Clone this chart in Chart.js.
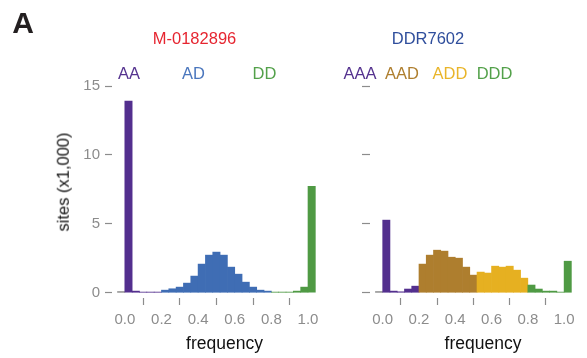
<!DOCTYPE html>
<html>
<head>
<meta charset="utf-8">
<script src="https://cdn.jsdelivr.net/npm/chart.js@4"></script>
<style>
  body { margin: 0; width: 587px; height: 358px; position: relative; background: #fff; overflow: hidden;
         font-family: "Liberation Sans", Arial, Helvetica, sans-serif; }
  canvas { position: absolute; top: 0; }
  .lbl { position: absolute; transform: translate(-50%, -50%); line-height: 1; white-space: nowrap; }
</style>
</head>
<body>
<canvas id="leftChart" width="335" height="358" style="left:0"></canvas>
<canvas id="rightChart" width="252" height="358" style="left:335px"></canvas>

<div class="lbl" style="left:23px;top:23px;font-size:30px;font-weight:bold;color:#231f20">A</div>
<div class="lbl" style="left:194.5px;top:37.5px;font-size:16.5px;color:#e62530">M-0182896</div>
<div class="lbl" style="left:428px;top:37.5px;font-size:16.5px;color:#2f4e9c">DDR7602</div>

<div class="lbl" style="left:129px;top:72.5px;font-size:16.5px;color:#55338f">AA</div>
<div class="lbl" style="left:193.5px;top:72.5px;font-size:16.5px;color:#4a76bd">AD</div>
<div class="lbl" style="left:264.5px;top:72.5px;font-size:16.5px;color:#53a14a">DD</div>
<div class="lbl" style="left:360px;top:72.5px;font-size:16.5px;color:#55338f">AAA</div>
<div class="lbl" style="left:402px;top:72.5px;font-size:16.5px;color:#ae7e2e">AAD</div>
<div class="lbl" style="left:450px;top:72.5px;font-size:16.5px;color:#e9b52a">ADD</div>
<div class="lbl" style="left:494.5px;top:72.5px;font-size:16.5px;color:#53a14a">DDD</div>

<div class="lbl" style="left:62.5px;top:181.5px;font-size:16.5px;color:#111;transform:translate(-50%,-50%) rotate(-90deg)">sites (x1,000)</div>
<div class="lbl" style="left:224.5px;top:343.5px;font-size:17.5px;color:#111">frequency</div>
<div class="lbl" style="left:483px;top:343.5px;font-size:17.5px;color:#111">frequency</div>

<script>
// histogram bins of width 0.04; the first bin (-0.04..0) is the grey stub at the baseline
const binMids = [-0.02, 0.02, 0.06, 0.10, 0.14, 0.18, 0.22, 0.26, 0.30, 0.34, 0.38, 0.42, 0.46, 0.50,
                 0.54, 0.58, 0.62, 0.66, 0.70, 0.74, 0.78, 0.82, 0.86, 0.90, 0.94, 0.98, 1.02];

// sites per bin, in thousands
const leftSites = [0.08, 13.9, 0.12, 0.05, 0.05, 0.05, 0.19, 0.29, 0.41, 0.70, 1.21, 2.08, 2.73, 2.95,
                   2.73, 1.86, 1.35, 0.77, 0.41, 0.19, 0.12, 0.05, 0.05, 0.05, 0.12, 0.41, 7.73];
const leftGenotype = ['', 'AA', 'AA', 'AA', 'AA', 'AA', 'AD', 'AD', 'AD', 'AD', 'AD', 'AD', 'AD', 'AD',
                      'AD', 'AD', 'AD', 'AD', 'AD', 'AD', 'AD', 'DD', 'DD', 'DD', 'DD', 'DD', 'DD'];

const rightSites = [0.08, 5.27, 0.12, 0.07, 0.27, 0.48, 2.08, 2.73, 3.09, 3.02, 2.58, 2.51, 1.86, 1.28,
                    1.50, 1.43, 1.93, 1.86, 1.93, 1.64, 1.06, 0.56, 0.27, 0.12, 0.12, 0.05, 2.29];
const rightGenotype = ['', 'AAA', 'AAA', 'AAA', 'AAA', 'AAA', 'AAD', 'AAD', 'AAD', 'AAD', 'AAD', 'AAD', 'AAD', 'AAD',
                       'ADD', 'ADD', 'ADD', 'ADD', 'ADD', 'ADD', 'ADD', 'DDD', 'DDD', 'DDD', 'DDD', 'DDD', 'DDD'];

const xTicks = [0, 0.2, 0.4, 0.6, 0.8, 1.0];
const yTicks = [0, 5, 10, 15];

const genotypeColors = {
  '': '#7a7a7a',
  AA: '#532f8e', AAA: '#532f8e',
  AD: '#3f6db4',
  AAD: '#ae7e2e',
  ADD: '#e6b021',
  DD: '#4f9a44', DDD: '#4f9a44'
};

const axisGrey = '#8c8c8c';
const fontFamily = '"Liberation Sans", Arial, Helvetica, sans-serif';

function makeHistogram(canvasId, sites, genotype, opts) {
  const ctx = document.getElementById(canvasId).getContext('2d');
  return new Chart(ctx, {
    type: 'bar',
    data: {
      datasets: [{
        data: binMids.map((x, i) => ({ x: x, y: sites[i] })),
        backgroundColor: genotype.map(g => genotypeColors[g]),
        borderWidth: 0,
        barPercentage: 1,
        categoryPercentage: 1
      }]
    },
    options: {
      responsive: false,
      animation: false,
      layout: { padding: { top: 86, right: opts.padRight, left: 0, bottom: 0 } },
      plugins: { legend: { display: false }, tooltip: { enabled: false } },
      scales: {
        x: {
          type: 'linear',
          min: -0.07,
          max: 1.06,
          offset: false,
          afterBuildTicks: s => { s.ticks = xTicks.map(v => ({ value: v })); },
          afterFit: s => { s.height = 60; },
          border: { display: false },
          grid: { drawOnChartArea: false, tickLength: 7, tickColor: axisGrey, tickWidth: 1.2 },
          ticks: {
            color: axisGrey, padding: 6, maxRotation: 0, autoSkip: false,
            font: { size: 15, family: fontFamily },
            callback: v => Number(v).toFixed(1)
          }
        },
        y: {
          min: -0.38,
          max: 15,
          afterBuildTicks: s => { s.ticks = yTicks.map(v => ({ value: v })); },
          afterFit: s => { s.width = opts.yWidth; },
          border: { display: false },
          grid: { drawOnChartArea: false, tickLength: opts.yTickLen, tickColor: axisGrey, tickWidth: 1.2 },
          ticks: {
            color: axisGrey, padding: 5,
            font: { size: 15, family: fontFamily },
            callback: v => opts.yLabels ? String(v) : ''
          }
        }
      }
    }
  });
}

makeHistogram('leftChart', leftSites, leftGenotype, { padRight: 16, yWidth: 112, yTickLen: 7, yLabels: true });
makeHistogram('rightChart', rightSites, rightGenotype, { padRight: 12, yWidth: 35, yTickLen: 8, yLabels: false });
</script>
</body>
</html>
